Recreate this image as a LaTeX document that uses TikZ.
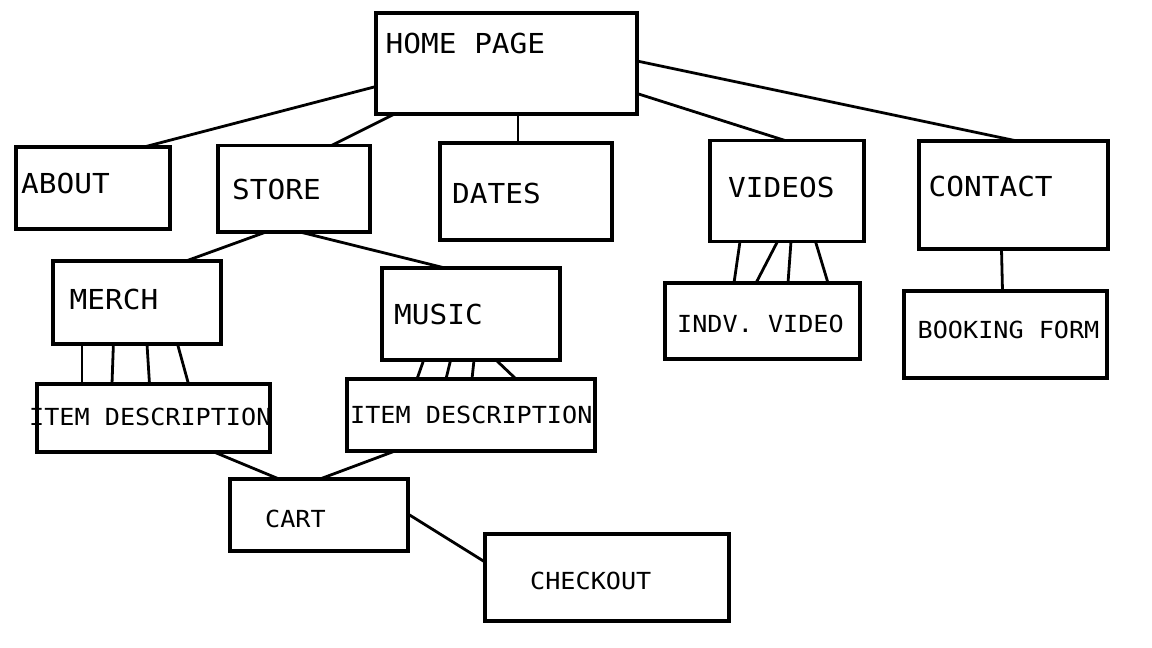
\documentclass[tikz,border=0pt]{standalone}
\usepackage{fontspec}
\newfontfamily\paintfont[FakeStretch=1.07]{DejaVu Sans Mono}
\begin{document}
\begin{tikzpicture}[x=1pt, y=-1pt,
  box/.style={draw, line width=3.2pt, inner sep=0pt, outer sep=0pt, anchor=north west},
  big/.style={anchor=base west, inner sep=0pt, font=\paintfont\fontsize{27.5}{30}\selectfont},
  small/.style={anchor=base west, inner sep=0pt, font=\paintfont\fontsize{23.5}{26}\selectfont},
  lnk/.style={line width=2.8pt}]
\fill [white] (0,0) rectangle (1152,648);
\useasboundingbox (0,0) rectangle (1152,648);
% pages
\node [box, minimum width=261pt, minimum height=101pt] (home) at (376,13) {};
\node [box, minimum width=154pt, minimum height=82pt] (about) at (16,147) {};
\node [box, minimum width=152pt, minimum height=86.5pt] (store) at (218,145.5) {};
\node [box, minimum width=172pt, minimum height=97pt] (dates) at (440,143) {};
\node [box, minimum width=154pt, minimum height=101pt] (videos) at (710,140.5) {};
\node [box, minimum width=189pt, minimum height=108pt] (contact) at (919,141) {};
\node [box, minimum width=168pt, minimum height=83pt] (merch) at (53,261) {};
\node [box, minimum width=178pt, minimum height=92pt] (music) at (382,268) {};
\node [box, minimum width=233pt, minimum height=68pt] (itemm) at (37,384) {};
\node [box, minimum width=248pt, minimum height=72pt] (itemu) at (347,379) {};
\node [box, minimum width=195pt, minimum height=76pt] (indv) at (665,283) {};
\node [box, minimum width=203pt, minimum height=87pt] (booking) at (904,291) {};
\node [box, minimum width=178pt, minimum height=72pt] (cart) at (230,479) {};
\node [box, minimum width=244pt, minimum height=87pt] (checkout) at (485,534) {};
% labels
\node [big] (home-t) at (385.5,53.5) {HOME PAGE};
\node [big] (about-t) at (21,193.5) {ABOUT};
\node [big] (store-t) at (232,199.5) {STORE};
\node [big] (dates-t) at (452,203) {DATES};
\node [big] (videos-t) at (728,197) {VIDEOS};
\node [big] (contact-t) at (928.5,196) {CONTACT};
\node [big] (merch-t) at (69.5,309) {MERCH};
\node [big] (music-t) at (394,324) {MUSIC};
\node [small] (itemm-t) at (29,425) {ITEM DESCRIPTION};
\node [small] (itemu-t) at (350,423) {ITEM DESCRIPTION};
\node [small] (indv-t) at (677,332) {INDV. VIDEO};
\node [small] (booking-t) at (917.5,338) {BOOKING FORM};
\node [small] (cart-t) at (265,527) {CART};
\node [small] (checkout-t) at (530,589) {CHECKOUT};
% links
\draw [lnk] ([yshift=-23pt]home.west) edge ([xshift=51pt]about.north);
\draw [lnk] ([xshift=-112pt]home.south) edge ([xshift=37.5pt]store.north);
\draw [lnk] ([xshift=11.5pt]home.south) edge ([xshift=-8pt]dates.north);
\draw [lnk] ([yshift=-30pt]home.east) edge ([xshift=-2pt]videos.north);
\draw [lnk] ([yshift=2.5pt]home.east) edge ([xshift=3.5pt]contact.north);
\draw [lnk] ([xshift=-28pt]store.south) edge ([xshift=49pt]merch.north);
\draw [lnk] ([xshift=6pt]store.south) edge ([xshift=-26pt]music.north);
\draw [lnk] ([xshift=-55pt]merch.south) edge ([xshift=-71.5pt]itemm.north);
\draw [lnk] ([xshift=-23.6pt]merch.south) edge ([xshift=-41.5pt]itemm.north);
\draw [lnk] ([xshift=10pt]merch.south) edge ([xshift=-4pt]itemm.north);
\draw [lnk] ([xshift=40.5pt]merch.south) edge ([xshift=35pt]itemm.north);
\draw [lnk] ([xshift=-47.3pt]music.south) edge ([xshift=-54pt]itemu.north);
\draw [lnk] ([xshift=-20.4pt]music.south) edge ([xshift=-25pt]itemu.north);
\draw [lnk] ([xshift=3pt]music.south) edge ([xshift=1pt]itemu.north);
\draw [lnk] ([xshift=25pt]music.south) edge ([xshift=45pt]itemu.north);
\draw [lnk] ([xshift=-47pt]videos.south) edge ([xshift=-28.5pt]indv.north);
\draw [lnk] ([xshift=-9.5pt]videos.south) edge ([xshift=-6.5pt]indv.north);
\draw [lnk] ([xshift=4pt]videos.south) edge ([xshift=25.5pt]indv.north);
\draw [lnk] ([xshift=28.5pt]videos.south) edge ([xshift=65.5pt]indv.north);
\draw [lnk] ([xshift=-12pt]contact.south) edge ([xshift=-3pt]booking.north);
\draw [lnk] ([xshift=60.5pt]itemm.south) edge ([xshift=-40pt]cart.north);
\draw [lnk] ([xshift=-76pt]itemu.south) edge ([xshift=1pt]cart.north);
\draw [lnk] ([yshift=1pt]cart.east) edge ([yshift=15.5pt]checkout.west);
\end{tikzpicture}
\end{document}
